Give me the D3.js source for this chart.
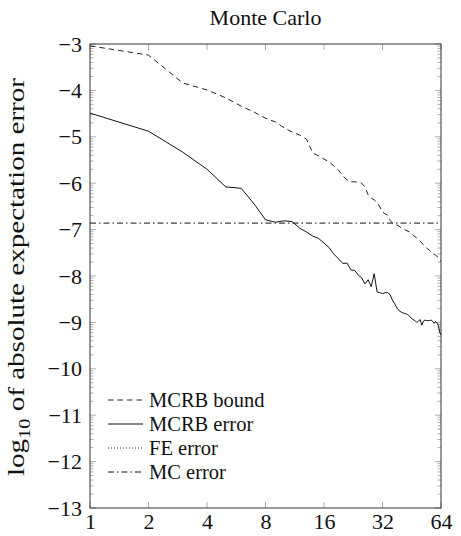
<!DOCTYPE html>
<html><head><meta charset="utf-8">
<script src="https://cdn.jsdelivr.net/npm/d3@7"></script>
<style>body{margin:0;background:#fff}svg{display:block}</style>
</head><body>
<svg id="c" width="461" height="536"></svg>
<script>
const boundN = [1,2,3,4,5,6,7,8,9,10,11,12,13,14,15,16,17,18,19,20,21,22,23,24,25,26,27,28,29,30,31,32,33,34,35,36,38,40,42,44,46,48,50,52,54,56,58,60,62,64];
const boundVals = [-3.04,-3.24,-3.84,-3.99,-4.16,-4.34,-4.47,-4.60,-4.68,-4.81,-4.90,-4.96,-5.05,-5.35,-5.41,-5.48,-5.54,-5.63,-5.72,-5.84,-5.93,-5.97,-5.97,-5.98,-6.00,-6.08,-6.25,-6.32,-6.36,-6.41,-6.51,-6.62,-6.66,-6.69,-6.80,-6.86,-6.90,-6.96,-7.01,-7.05,-7.12,-7.18,-7.25,-7.33,-7.40,-7.45,-7.51,-7.55,-7.60,-7.68];
const errN = d3.range(1, 65);
const errVals = [-4.49,-4.88,-5.33,-5.70,-6.08,-6.11,-6.45,-6.79,-6.84,-6.81,-6.83,-6.97,-7.05,-7.14,-7.19,-7.29,-7.39,-7.53,-7.63,-7.73,-7.72,-7.87,-7.88,-7.98,-8.04,-8.17,-8.08,-8.23,-7.95,-8.34,-8.36,-8.38,-8.36,-8.36,-8.40,-8.52,-8.60,-8.69,-8.75,-8.78,-8.80,-8.81,-8.83,-8.86,-8.91,-8.94,-8.96,-9.00,-8.97,-8.94,-9.06,-8.97,-8.95,-8.96,-8.96,-8.96,-8.95,-8.98,-9.02,-8.98,-9.01,-9.06,-9.21,-9.27];
const mcN = [1, 64];
const mcVals = [-6.86, -6.86];
const feN = [];
const feVals = [];
const xTicks = [1,2,4,8,16,32,64];
const yTicks = [-13,-12,-11,-10,-9,-8,-7,-6,-5,-4,-3];
const legendLabels = ["MCRB bound","MCRB error","FE error","MC error"];
const title = "Monte Carlo";

const W = 461, H = 536;
const m = {left: 90, right: 20, top: 44, bottom: 28};
const svg = d3.select("#c");
const font = "'Liberation Serif', 'Times New Roman', serif";
const x = d3.scaleLog().base(2).domain([1, 64]).range([m.left, W - m.right]);
const y = d3.scaleLinear().domain([-13, -3]).range([H - m.bottom, m.top]);

const styles = [
  {dash: "5.5,4", color: "#222"},
  {dash: null, color: "#111"},
  {dash: "1,2", color: "#222"},
  {dash: "6,3,1.5,3", color: "#111"}
];

// ticks
const tickG = svg.append("g").attr("stroke", "#999").attr("stroke-width", 0.8);
const minor = [];
for (let k = -13; k < -3; k++) for (let j = 2; j <= 9; j++) minor.push(k + Math.log10(j));
const x0 = m.left, x1 = W - m.right, y0 = H - m.bottom, y1 = m.top;
yTicks.forEach(t => {
  tickG.append("line").attr("x1", x0).attr("x2", x0 + 6).attr("y1", y(t)).attr("y2", y(t));
  tickG.append("line").attr("x1", x1).attr("x2", x1 - 6).attr("y1", y(t)).attr("y2", y(t));
});
minor.forEach(t => {
  tickG.append("line").attr("x1", x0).attr("x2", x0 + 3.5).attr("y1", y(t)).attr("y2", y(t));
  tickG.append("line").attr("x1", x1).attr("x2", x1 - 3.5).attr("y1", y(t)).attr("y2", y(t));
});
xTicks.forEach(t => {
  tickG.append("line").attr("x1", x(t)).attr("x2", x(t)).attr("y1", y0).attr("y2", y0 - 6);
  tickG.append("line").attr("x1", x(t)).attr("x2", x(t)).attr("y1", y1).attr("y2", y1 + 6);
});

// frame
svg.append("rect").attr("x", x0).attr("y", y1).attr("width", x1 - x0).attr("height", y0 - y1)
  .attr("fill", "none").attr("stroke", "#333").attr("stroke-width", 1);

// tick labels
const xAxis = d3.axisBottom(x).tickValues(xTicks).tickFormat(d3.format("d")).tickSize(0).tickPadding(5);
svg.append("g").attr("transform", `translate(0,${y0})`).call(xAxis)
  .call(g => g.select(".domain").remove())
  .selectAll("text").attr("font-family", font).attr("font-size", 22).attr("fill", "#111");
const yAxis = d3.axisLeft(y).tickValues(yTicks).tickFormat(d => "\u2212" + Math.abs(d)).tickSize(0).tickPadding(8);
svg.append("g").attr("transform", `translate(${x0},0)`).call(yAxis)
  .call(g => g.select(".domain").remove())
  .selectAll("text").attr("font-family", font).attr("font-size", 22).attr("fill", "#111");

// lines
const line = d3.line().x(d => x(d[0])).y(d => y(d[1]));
const series = [
  d3.zip(boundN, boundVals),
  d3.zip(errN, errVals),
  d3.zip(feN, feVals),
  d3.zip(mcN, mcVals)
];
series.forEach((s, i) => {
  if (!s.length) return;
  svg.append("path").datum(s).attr("d", line).attr("fill", "none")
    .attr("stroke", styles[i].color).attr("stroke-width", 1)
    .attr("stroke-dasharray", styles[i].dash);
});

// legend
const lg = svg.append("g");
legendLabels.forEach((lab, i) => {
  const yy = 400 + i * 24;
  lg.append("line").attr("x1", 108).attr("x2", 143).attr("y1", yy).attr("y2", yy)
    .attr("stroke", styles[i].color).attr("stroke-width", 1).attr("stroke-dasharray", styles[i].dash);
  lg.append("text").attr("x", 149).attr("y", yy).attr("dy", "0.33em")
    .attr("font-family", font).attr("font-size", 20.5).attr("fill", "#111").text(lab);
});

// title
svg.append("text").attr("x", (x0 + x1) / 2).attr("y", 18).attr("dy", "0.33em").attr("text-anchor", "middle")
  .attr("font-family", font).attr("font-size", 22).attr("fill", "#111").text(title);

// y label
const yl = svg.append("text").attr("transform", `translate(24,${(y0 + y1) / 2 + 1}) rotate(-90)`)
  .attr("text-anchor", "middle").attr("font-family", font).attr("font-size", 23).attr("fill", "#111")
  .attr("textLength", 398).attr("lengthAdjust", "spacingAndGlyphs");
yl.append("tspan").text("log");
yl.append("tspan").attr("font-size", 16).attr("dy", 6).text("10");
yl.append("tspan").attr("dy", -6).text(" of absolute expectation error");
</script>
</body></html>
